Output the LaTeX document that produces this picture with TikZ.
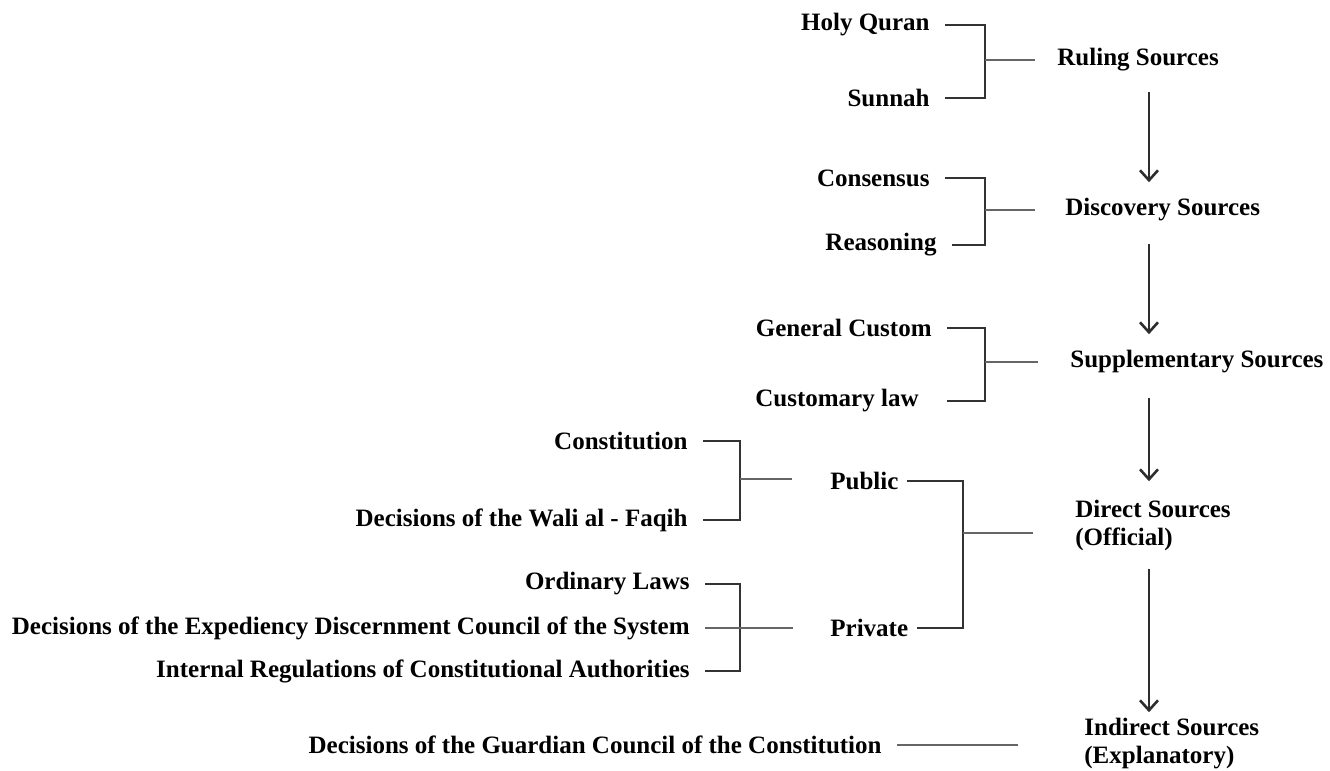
\documentclass[tikz,border=0pt]{standalone}
\usepackage{fontspec}
\setmainfont{Liberation Serif}
\usetikzlibrary{positioning,arrows.meta}

\begin{document}
\begin{tikzpicture}[
    x=0.5pt, y=-0.5pt,
    font=\fontsize{12.5}{14}\selectfont\bfseries,
    item/.style={anchor=east, inner xsep=7.5pt, inner ysep=0pt},
    src/.style={anchor=west, align=left, inner ysep=0pt},
    sub/.style={anchor=west, inner xsep=4pt, inner ysep=0pt},
    brk/.style={draw=black!80, line width=1.3pt},
    stem/.style={draw=black!60, line width=0.8pt},
    arrow/.style={draw=black!82, line width=1.3pt, -{Straight Barb[length=5pt,width=9pt]}},
]
    \useasboundingbox (0,0) rectangle (1330,771);
    \coordinate (ax) at (1149,0);

    % Ruling
    \node[item] (hq) at (945,25) {Holy Quran};
    \node[item] (sun) at (945,98) {Sunnah};
    \coordinate (j1) at (985,60);
    \node[src, inner xsep=11pt] (rs) at (1035,60) {Ruling Sources};

    % Discovery
    \node[item] (cons) at (945,178) {Consensus};
    \node[item] (reas) at (952,245) {Reasoning};
    \coordinate (j2) at (985,210);
    \node[src, inner xsep=15pt] (ds) at (1035,210) {Discovery Sources};

    % Supplementary
    \node[item] (gc) at (947,328) {General Custom};
    \node[item, inner xsep=14pt] (cl) at (947,401) {Customary law};
    \coordinate (j3) at (985,362);
    \node[src, inner xsep=16pt] (ss) at (1038,362) {Supplementary Sources};

    % Public
    \node[item] (con) at (703,441) {Constitution};
    \node[item] (wali) at (703,520) {Decisions of the Wali al - Faqih};
    \coordinate (j4) at (740,479);
    \node[sub] (pub) at (822,481) {Public};

    % Private
    \node[item] (ol) at (705,584) {Ordinary Laws};
    \node[item] (edc) at (705,628) {Decisions of the Expediency Discernment Council of the System};
    \node[item] (irc) at (705,671) {Internal Regulations of Constitutional Authorities};
    \node[sub] (pri) at (822,628) {Private};

    % Direct
    \coordinate (j5) at (963,533);
    \node[src, inner xsep=21pt] (dso) at (1033,525) {Direct Sources\\(Official)};

    % Indirect
    \node[item] (gcc) at (897,745) {Decisions of the Guardian Council of the Constitution};
    \node[src, inner xsep=33pt] (isrc) at (1018,744) {Indirect Sources\\(Explanatory)};

    % Brackets
    \draw[brk] (hq.east) -| (j1) |- (sun.east);
    \draw[brk] (cons.east) -| (j2) |- (reas.east);
    \draw[brk] (gc.east) -| (j3) |- (cl.east);
    \draw[brk] (con.east) -| (j4) |- (wali.east);
    \draw[brk] (ol.east) -| (edc.east -| j4) |- (irc.east);
    \draw[brk] (pub.east) -| (j5) |- (pri.east);

    \draw[stem] (j1) -- (rs.west);
    \draw[stem] (j2) -- (ds.west);
    \draw[stem] (j3) -- (ss.west);
    \draw[stem, shorten >=15pt] (j4) -- (pub.west |- j4);
    \draw[stem, shorten >=14.5pt] (edc.east) -- (pri.west);
    \draw[stem] (j5) -- (dso.west |- j5);
    \draw[stem] (gcc.east) -- (isrc.west |- gcc);

    % Main column
    \draw[arrow, shorten <=10pt, shorten >=8pt] (rs.south -| ax) -- (ds.north -| ax);
    \draw[arrow, shorten <=11pt, shorten >=8pt] (ds.south -| ax) -- (ss.north -| ax);
    \draw[arrow, shorten <=12pt, shorten >=9pt] (ss.south -| ax) -- (dso.north -| ax);
    \draw[arrow, shorten <=9pt, shorten >=3pt] (dso.south -| ax) -- (isrc.north -| ax);
\end{tikzpicture}
\end{document}
